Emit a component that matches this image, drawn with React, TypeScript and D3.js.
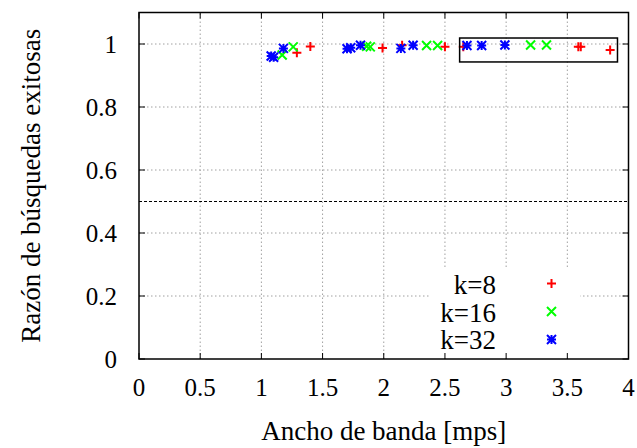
import React from "react";
import * as d3 from "d3";

const xTicks = [0, 0.5, 1, 1.5, 2, 2.5, 3, 3.5, 4];
const xTickLabels = ["0", "0.5", "1", "1.5", "2", "2.5", "3", "3.5", "4"];
const yTicks = [0, 0.2, 0.4, 0.6, 0.8, 1];
const yTickLabels = ["0", "0.2", "0.4", "0.6", "0.8", "1"];

const k8: [number, number][] = [
  [1.29, 0.972], [1.4, 0.992], [1.99, 0.987], [2.15, 0.996], [2.5, 0.991],
  [2.65, 0.991], [3.59, 0.991], [3.61, 0.991], [3.85, 0.981],
];
const k16: [number, number][] = [
  [1.17, 0.965], [1.26, 0.991], [1.86, 0.993], [1.89, 0.991], [2.35, 0.995],
  [2.44, 0.995], [3.2, 0.997], [3.33, 0.997],
];
const k32: [number, number][] = [
  [1.08, 0.962], [1.1, 0.958], [1.18, 0.986], [1.7, 0.985], [1.73, 0.988],
  [1.81, 0.996], [2.14, 0.986], [2.24, 0.996], [2.68, 0.995], [2.8, 0.995],
  [2.99, 0.997],
];
const refLine = 0.5;
const boxX = [2.62, 3.91];
const boxY = [0.943, 1.019];

const seriesNames = ["k=8", "k=16", "k=32"];
const seriesColors = ["#ff0000", "#00ff00", "#0000ff"];
const seriesShapes = ["plus", "cross", "star"];

const W = 637, H = 448;
const L = 139, R = 628.5, T = 12.5, B = 359;
const FONT = "Liberation Serif";

function Marker({ cx, cy, shape, color }: { cx: number; cy: number; shape: string; color: string }) {
  const s = 4.5;
  const plus = `M${cx - s},${cy}H${cx + s}M${cx},${cy - s}V${cy + s}`;
  const cross = `M${cx - s},${cy - s}L${cx + s},${cy + s}M${cx - s},${cy + s}L${cx + s},${cy - s}`;
  const d = shape === "plus" ? plus : shape === "cross" ? cross : plus + cross;
  return <path d={d} stroke={color} strokeWidth={2} fill="none" />;
}

export default function App() {
  const x = d3.scaleLinear().domain([0, 4]).range([L, R]);
  const y = d3.scaleLinear().domain([0, 1.1]).range([B, T]);
  const series = [k8, k16, k32];
  const tick = 6;

  return (
    <svg width={W} height={H} style={{ position: "absolute", left: 0, top: 0, background: "#fff" }} fontFamily={FONT}>
      <rect x={0} y={0} width={W} height={H} fill="#fff" />
      {xTicks.slice(1, -1).map((t) => (
        <line key={"gx" + t} x1={x(t)} x2={x(t)} y1={B} y2={T} stroke="#a0a0a0" strokeWidth={1} strokeDasharray="1.5,2.5" />
      ))}
      {yTicks.slice(1).map((t) => (
        <line key={"gy" + t} x1={L} x2={R} y1={y(t)} y2={y(t)} stroke="#a0a0a0" strokeWidth={1} strokeDasharray="1.5,2.5" />
      ))}
      <rect x={430} y={268} width={150} height={B - 268 - 1} fill="#fff" />
      <line x1={L} x2={R} y1={y(refLine)} y2={y(refLine)} stroke="#000" strokeWidth={1} strokeDasharray="3,2" />
      {xTicks.map((t) => (
        <g key={"tx" + t}>
          <line x1={x(t)} x2={x(t)} y1={B} y2={B - tick} stroke="#000" strokeWidth={1} />
          <line x1={x(t)} x2={x(t)} y1={T} y2={T + tick} stroke="#000" strokeWidth={1} />
        </g>
      ))}
      {yTicks.map((t) => (
        <g key={"ty" + t}>
          <line x1={L} x2={L + tick} y1={y(t)} y2={y(t)} stroke="#000" strokeWidth={1} />
          <line x1={R} x2={R - tick} y1={y(t)} y2={y(t)} stroke="#000" strokeWidth={1} />
        </g>
      ))}
      {xTicks.map((t, i) => (
        <text key={"lx" + t} x={x(t)} y={396} textAnchor="middle" fontSize={25} fontFamily={FONT}>
          {xTickLabels[i]}
        </text>
      ))}
      {yTicks.map((t, i) => (
        <text key={"ly" + t} x={117} y={y(t) + 8.5} textAnchor="end" fontSize={25} fontFamily={FONT}>
          {yTickLabels[i]}
        </text>
      ))}
      {series.map((data, si) =>
        data.map(([vx, vy], j) => (
          <Marker key={si + "-" + j} cx={x(vx)} cy={y(vy)} shape={seriesShapes[si]} color={seriesColors[si]} />
        ))
      )}
      <rect x={x(boxX[0])} y={y(boxY[1])} width={x(boxX[1]) - x(boxX[0])} height={y(boxY[0]) - y(boxY[1])} fill="none" stroke="#000" strokeWidth={1.5} />
      {seriesNames.map((n, i) => (
        <g key={"leg" + i}>
          <text x={496} y={294 + i * 27.5} textAnchor="end" fontSize={27} fontFamily={FONT}>
            {n}
          </text>
          <Marker cx={551.5} cy={283.5 + i * 28} shape={seriesShapes[i]} color={seriesColors[i]} />
        </g>
      ))}
      <rect x={L} y={T} width={R - L} height={B - T} fill="none" stroke="#000" strokeWidth={1.5} />
      <text x={(L + R) / 2} y={440} textAnchor="middle" fontSize={27} fontFamily={FONT}>
        Ancho de banda [mps]
      </text>
      <text transform={`translate(40,${(T + B) / 2}) rotate(-90)`} textAnchor="middle" fontSize={27} fontFamily={FONT}>
        Razón de búsquedas exitosas
      </text>
    </svg>
  );
}
